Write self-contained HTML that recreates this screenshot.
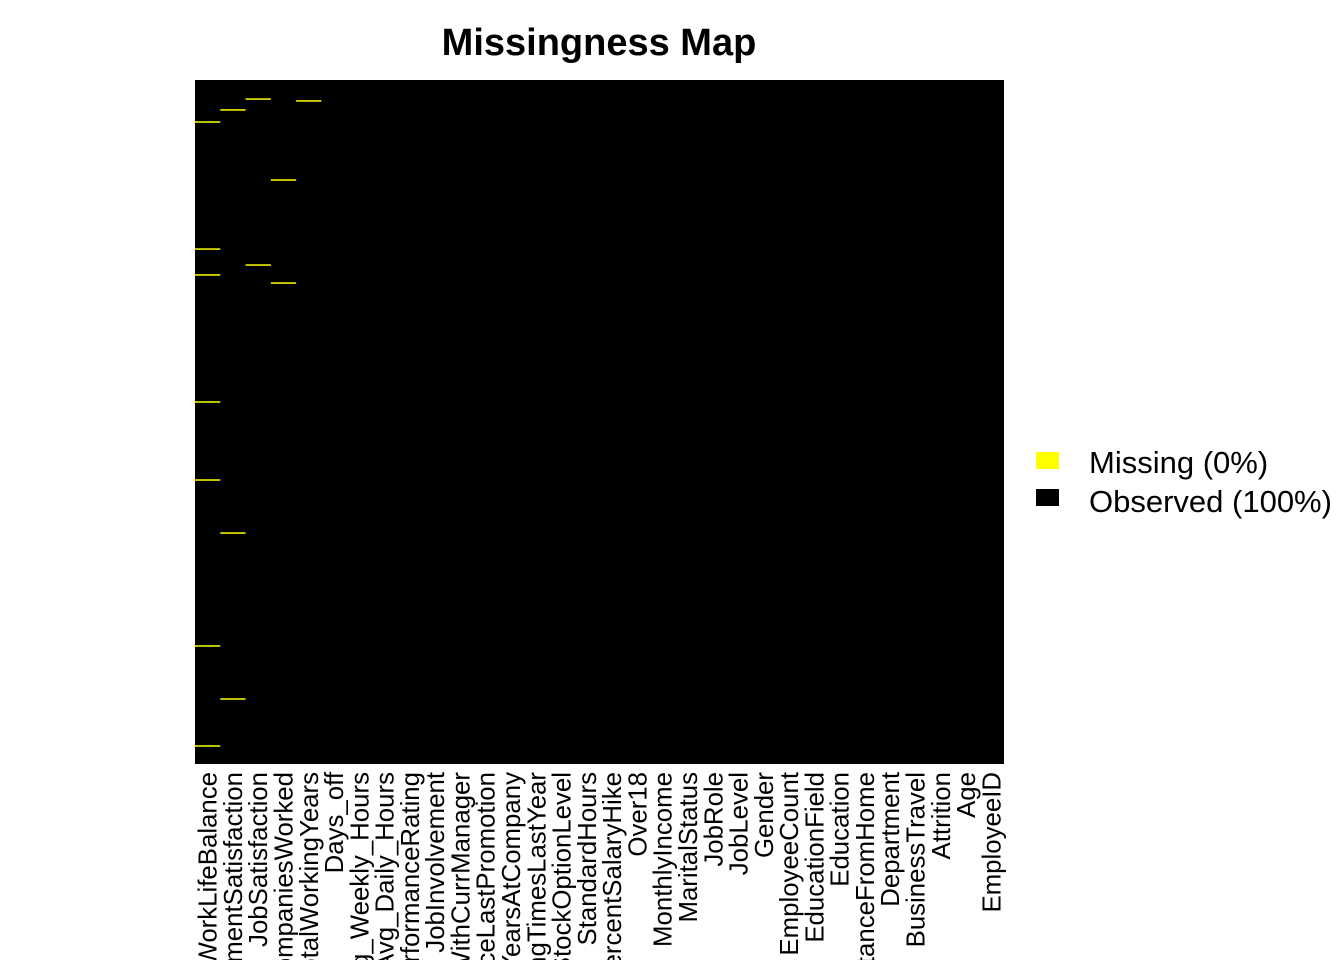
<!DOCTYPE html>
<html><head><meta charset="utf-8"><style>
html,body{margin:0;padding:0;background:#fff;overflow:hidden;width:1344px;height:960px;}
svg{display:block;font-family:"Liberation Sans",Arial,sans-serif;overflow:hidden;}
</style></head><body>
<svg id="chart" width="1344" height="960">
<text x="599" y="55" text-anchor="middle" font-size="38" font-weight="bold">Missingness Map</text>
<rect x="195" y="80" width="809" height="684" fill="#000"/>
<g id="marks"></g>
<g id="labels"></g>
<g>
<rect x="1036" y="452" width="23" height="17" fill="#ffff00"/>
<text x="1089" y="473" font-size="31">Missing (0%)</text>
<rect x="1036" y="489" width="23" height="17" fill="#000"/>
<text x="1089" y="512" font-size="31">Observed (100%)</text>
</g>
</svg>
<script>
const variables = ["WorkLifeBalance","EnvironmentSatisfaction","JobSatisfaction","NumCompaniesWorked","TotalWorkingYears","Days_off","Avg_Weekly_Hours","Avg_Daily_Hours","PerformanceRating","JobInvolvement","YearsWithCurrManager","YearsSinceLastPromotion","YearsAtCompany","TrainingTimesLastYear","StockOptionLevel","StandardHours","PercentSalaryHike","Over18","MonthlyIncome","MaritalStatus","JobRole","JobLevel","Gender","EmployeeCount","EducationField","Education","DistanceFromHome","Department","BusinessTravel","Attrition","Age","EmployeeID"];
const nRows = 4410;
const missingCol = [0,0,0,0,0,0,0, 1,1,1, 2,2, 3,3, 4];
const missingRow = [271,1090,1257,2076,2579,3649,4294, 193,2921,3991, 123,1193, 645,1309, 135];

const X0=195, X1=1004, Y0=80, Y1=764;
const colW=(X1-X0)/variables.length;
const xCol=i=>X0+i*colW;
const yRow=r=>Y0+(r/nRows)*(Y1-Y0);
const NS="http://www.w3.org/2000/svg";
const marks=document.getElementById('marks');
for(let k=0;k<missingCol.length;k++){
  const r=document.createElementNS(NS,'rect');
  r.setAttribute('x',xCol(missingCol[k]));
  r.setAttribute('y',yRow(missingRow[k])-0.75);
  r.setAttribute('width',colW);
  r.setAttribute('height',1.5);
  r.setAttribute('fill','#ffff00');
  
  
  marks.appendChild(r);
}
const labels=document.getElementById('labels');
variables.forEach((v,i)=>{
  const t=document.createElementNS(NS,'text');
  const cx=xCol(i)+colW/2+9;
  t.setAttribute('transform','translate('+cx+',772) rotate(-90)');
  t.setAttribute('text-anchor','end');
  t.setAttribute('font-size','25.8');
  t.textContent=v;
  
  
  labels.appendChild(t);
});
</script>
</body></html>
